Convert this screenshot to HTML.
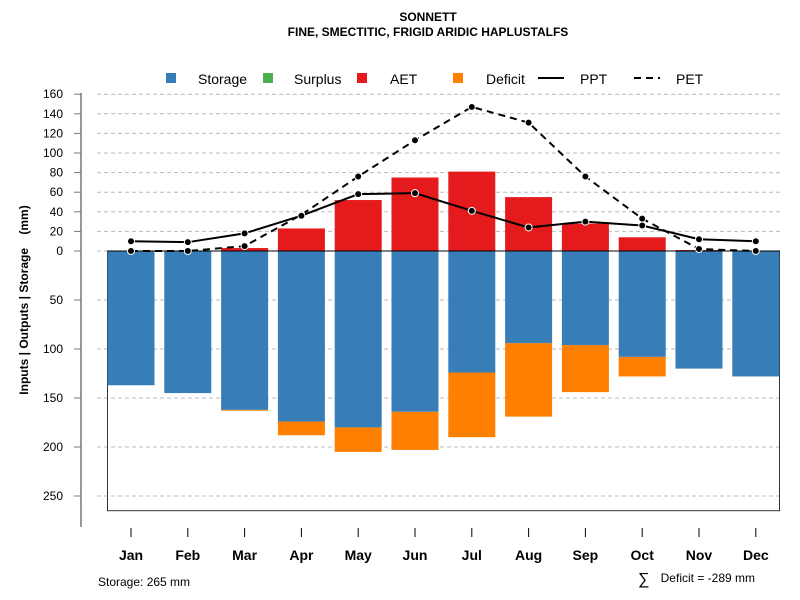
<!DOCTYPE html>
<html><head><meta charset="utf-8"><style>
body{margin:0;background:#fff;}
svg{display:block;font-family:"Liberation Sans",sans-serif;}
</style></head><body>
<svg id="c" width="800" height="600"></svg>
<script>
const months=["Jan","Feb","Mar","Apr","May","Jun","Jul","Aug","Sep","Oct","Nov","Dec"];
const storage=[137,145,162,174,180,164,124,94,96,108,120,128];
const deficitBottom=[137,145,163,188,205,203,190,169,144,128,120,128];
const aet=[0,0,3,23,52,75,81,55,28,14,1,0];
const ppt=[10,9,18,36,58,59,41,24,30,26,12,10];
const pet=[0,0,5,37,76,113,147,131,76,33,2,0];
const posTicks=[0,20,40,60,80,100,120,140,160];
const negTicks=[50,100,150,200,250];
const storageMax=265;

const NS="http://www.w3.org/2000/svg";
const svg=document.getElementById('c');
const y0=251, k=0.98;
function Y(v){return y0-v*k;}
function X(i){return 131+i*56.8;}
const bw=47;
function el(t,a,p){const e=document.createElementNS(NS,t);for(const n in a)e.setAttribute(n,a[n]);(p||svg).appendChild(e);return e;}
function txt(s,a){const e=el('text',a);e.textContent=s;return e;}

let t=txt("SONNETT",{x:428,y:21,'text-anchor':'middle','font-size':12,'font-weight':'bold'});


t=txt("FINE, SMECTITIC, FRIGID ARIDIC HAPLUSTALFS",{x:428,y:36,'text-anchor':'middle','font-size':12,'font-weight':'bold'});



posTicks.forEach(v=>{const l=el('line',{x1:97,x2:782,y1:Y(v),y2:Y(v),stroke:'#bbb','stroke-dasharray':'4,3'});

});
negTicks.forEach(v=>{const l=el('line',{x1:97,x2:782,y1:Y(-v),y2:Y(-v),stroke:'#bbb','stroke-dasharray':'4,3'});

});

let bx=el('rect',{x:107.5,y:y0,width:672,height:storageMax*k,fill:'none',stroke:'#333'});



months.forEach((m,i)=>{
  const x=X(i)-bw/2;
  if(deficitBottom[i]>storage[i]){const r=el('rect',{x:x,y:Y(-storage[i]),width:bw,height:(deficitBottom[i]-storage[i])*k,fill:'#ff7f00'});
  
  }
  const s=el('rect',{x:x,y:y0,width:bw,height:storage[i]*k,fill:'#377eb8'});
  
  
  if(aet[i]>0){const a=el('rect',{x:x,y:Y(aet[i]),width:bw,height:aet[i]*k,fill:'#e41a1c'});
  
  }
});
let zl=el('line',{x1:107,x2:780,y1:y0,y2:y0,stroke:'#000'});



function line(vals,dash,name){
  const p=el('polyline',{points:vals.map((v,i)=>X(i)+','+Y(v)).join(' '),fill:'none',stroke:'#000','stroke-width':2,'stroke-dasharray':dash});
  
  
  vals.forEach((v,i)=>{const c=el('circle',{cx:X(i),cy:Y(v),r:3.5,fill:'#000',stroke:'#fff','stroke-width':1});
  
  });
}
line(pet,'7,5','pet');
line(ppt,'none','ppt');

let ax=el('line',{x1:81,x2:81,y1:93,y2:527,stroke:'#777','stroke-width':1.5});


posTicks.forEach(v=>{el('line',{x1:74,x2:81,y1:Y(v),y2:Y(v),stroke:'#777'});
const l=txt(v,{x:63,y:Y(v)+4,'text-anchor':'end','font-size':12});

});
negTicks.forEach(v=>{el('line',{x1:74,x2:81,y1:Y(-v),y2:Y(-v),stroke:'#777'});
const l=txt(v,{x:63,y:Y(-v)+4,'text-anchor':'end','font-size':12});

});
t=txt("Inputs | Outputs | Storage\u00a0\u00a0\u00a0\u00a0(mm)",{x:0,y:0,'text-anchor':'middle','font-size':12,'font-weight':'bold',transform:'translate(28,300) rotate(-90)'});



months.forEach((m,i)=>{el('line',{x1:X(i),x2:X(i),y1:528,y2:537,stroke:'#000'});
const l=txt(m,{x:X(i),y:560,'text-anchor':'middle','font-size':14,'font-weight':'bold'});

});

const leg=[["Storage","#377eb8","sq",171,198],["Surplus","#4daf4a","sq",268,294],["AET","#e41a1c","sq",362,390],["Deficit","#ff7f00","sq",458,486],["PPT","","solid",540,580],["PET","","dash",636,676]];
leg.forEach(d=>{
  const g=el('g',{});
  
  
  if(d[2]=='sq')el('rect',{x:d[3]-5,y:73,width:10,height:10,fill:d[1]},g);
  else el('line',{x1:d[3]-2,x2:d[3]+24,y1:78,y2:78,stroke:'#000','stroke-width':2,'stroke-dasharray':d[2]=='dash'?'7,5':'none'},g);
  const tt=el('text',{x:d[4],y:84,'font-size':14},g);tt.textContent=d[0];
});

t=txt("Storage: 265 mm",{x:98,y:586,'font-size':12});


t=txt("Deficit = -289 mm",{x:755,y:582,'text-anchor':'end','font-size':12});


t=txt("∑",{x:638,y:584,'font-size':16});


</script>
</body></html>
